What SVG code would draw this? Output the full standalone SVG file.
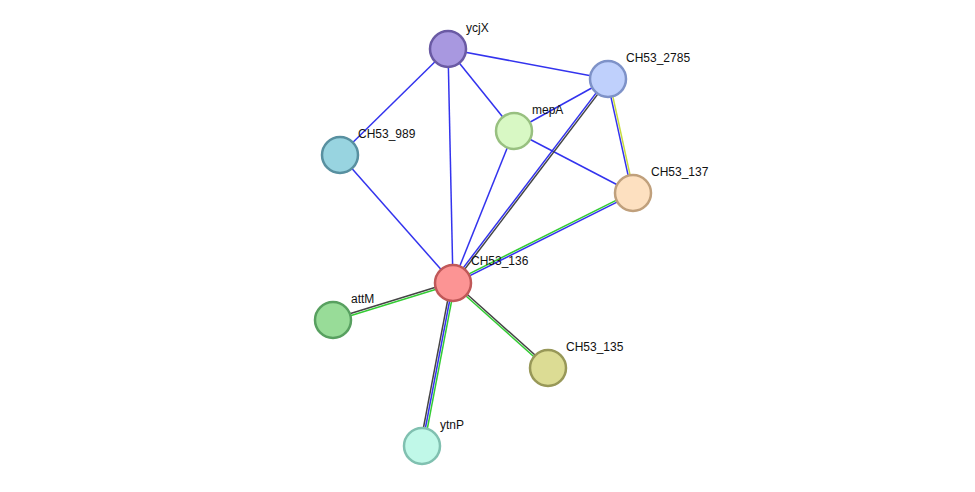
<svg xmlns="http://www.w3.org/2000/svg" width="975" height="492" viewBox="0 0 975 492">
<style>
.e{stroke-width:1.5;fill:none}
.b{stroke:#3333ee}
.k{stroke:#444444}
.g{stroke:#33cc33}
.y{stroke:#c8dc3c}
.n circle{stroke-width:2.5}
.n text{font-family:"Liberation Sans",Arial,sans-serif;font-size:12px;fill:#111}
</style>
<rect width="975" height="492" fill="#ffffff"/>
<g id="connectors">
<line class="e b" x1="448" y1="49" x2="608" y2="79"/>
<line class="e b" x1="448" y1="49" x2="514" y2="131"/>
<line class="e b" x1="448" y1="49" x2="340" y2="155"/>
<line class="e b" x1="448" y1="49" x2="453" y2="283"/>
<line class="e b" x1="514" y1="131" x2="608" y2="79"/>
<line class="e b" x1="514" y1="131" x2="633" y2="193"/>
<line class="e b" x1="514" y1="131" x2="453" y2="283"/>
<line class="e b" x1="340" y1="155" x2="453" y2="283"/>
<line class="e b" x1="607.02" y1="79.21" x2="632.02" y2="193.21"/>
<line class="e y" x1="608.98" y1="78.79" x2="633.98" y2="192.79"/>
<line class="e b" x1="607.2" y1="78.4" x2="452.2" y2="282.4"/>
<line class="e k" x1="608.8" y1="79.6" x2="453.8" y2="283.6"/>
<line class="e g" x1="452.55" y1="282.11" x2="632.55" y2="192.11"/>
<line class="e b" x1="453.45" y1="283.89" x2="633.45" y2="193.89"/>
<line class="e k" x1="452.7" y1="282.0" x2="332.7" y2="319.0"/>
<line class="e g" x1="453.3" y1="284.0" x2="333.3" y2="321.0"/>
<line class="e k" x1="453.67" y1="282.25" x2="548.67" y2="367.25"/>
<line class="e g" x1="452.33" y1="283.75" x2="547.33" y2="368.75"/>
<line class="e k" x1="451.04" y1="282.63" x2="420.04" y2="445.63"/>
<line class="e b" x1="453" y1="283" x2="422" y2="446"/>
<line class="e g" x1="454.96" y1="283.37" x2="423.96" y2="446.37"/>
</g>
<g id="node-ycjX" class="n"><circle cx="448" cy="49" r="18" fill="#a898e0" stroke="#6a5aa4"/><text x="466" y="32">ycjX</text></g>
<g id="node-CH53_2785" class="n"><circle cx="608" cy="79" r="18" fill="#bfd0fc" stroke="#7e92c8"/><text x="626" y="62">CH53_2785</text></g>
<g id="node-mepA" class="n"><circle cx="514" cy="131" r="18" fill="#d8f8c4" stroke="#98c080"/><text x="532" y="114">mepA</text></g>
<g id="node-CH53_989" class="n"><circle cx="340" cy="155" r="18" fill="#98d4e0" stroke="#5890a0"/><text x="358" y="138">CH53_989</text></g>
<g id="node-CH53_137" class="n"><circle cx="633" cy="193" r="18" fill="#fde0c0" stroke="#c0a07c"/><text x="651" y="176">CH53_137</text></g>
<g id="node-CH53_136" class="n"><circle cx="453" cy="283" r="18" fill="#fc9494" stroke="#c05858"/><text x="471" y="265">CH53_136</text></g>
<g id="node-attM" class="n"><circle cx="333" cy="320" r="18" fill="#98dc98" stroke="#58a060"/><text x="351" y="303">attM</text></g>
<g id="node-CH53_135" class="n"><circle cx="548" cy="368" r="18" fill="#dcdc94" stroke="#989858"/><text x="566" y="351">CH53_135</text></g>
<g id="node-ytnP" class="n"><circle cx="422" cy="446" r="18" fill="#c0f8e8" stroke="#80c0b0"/><text x="440" y="429">ytnP</text></g>
</svg>
